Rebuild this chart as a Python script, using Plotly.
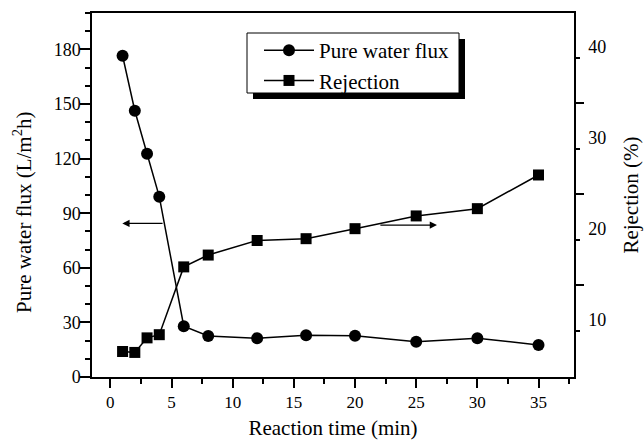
import plotly.graph_objects as go

# Reaction time (min)
time_min = [1, 2, 3, 4, 6, 8, 12, 16, 20, 25, 30, 35]
# Pure water flux (L/m2h)
flux = [176.5, 146.3, 122.7, 99.1, 27.9, 22.5, 21.3, 22.9, 22.7, 19.4, 21.3, 17.6]
# Rejection (%)
rejection = [6.5, 6.4, 8.0, 8.35, 15.8, 17.1, 18.7, 18.9, 20.0, 21.4, 22.2, 25.9]

x_ticks = [0, 5, 10, 15, 20, 25, 30, 35]
flux_ticks = [0, 30, 60, 90, 120, 150, 180]
rej_ticks = [10, 20, 30, 40]

FONT = "Liberation Serif, Times New Roman, Tinos, DejaVu Serif, serif"
BLACK = "#000000"

fig = go.Figure()

fig.add_trace(go.Scatter(
    x=time_min, y=flux, name="Pure water flux", mode="lines+markers",
    line=dict(color=BLACK, width=1.5),
    marker=dict(symbol="circle", size=12, color=BLACK),
))
fig.add_trace(go.Scatter(
    x=time_min, y=rejection, name="Rejection", mode="lines+markers",
    yaxis="y2",
    line=dict(color=BLACK, width=1.5),
    marker=dict(symbol="square", size=11, color=BLACK),
))
# invisible trace that carries the right-hand tick marks
fig.add_trace(go.Scatter(x=[None], y=[None], yaxis="y3", showlegend=False,
                         hoverinfo="skip"))

x_dom_px = (92, 574)
y_dom_px = (13, 377)
W, H = 644, 440


def px_x(p):
    return (p - x_dom_px[0]) / (x_dom_px[1] - x_dom_px[0])


def px_y(p):
    return (y_dom_px[1] - p) / (y_dom_px[1] - y_dom_px[0])


x_tick_font = dict(family=FONT, size=17, color=BLACK)
y_tick_font = dict(family=FONT, size=18, color=BLACK)
title_font = dict(family=FONT, size=21, color=BLACK)

fig.update_layout(
    width=W, height=H,
    margin=dict(l=x_dom_px[0], r=W - x_dom_px[1], t=y_dom_px[0], b=H - y_dom_px[1]),
    paper_bgcolor="white", plot_bgcolor="white",
    font=dict(family=FONT, color=BLACK),
    xaxis=dict(
        range=[-1.5, 37.9], tickvals=x_ticks, ticks="outside", ticklen=9,
        tickwidth=1.5, tickcolor=BLACK, showgrid=False, zeroline=False,
        showline=True, linecolor=BLACK, linewidth=1.5, mirror=True,
        tickfont=x_tick_font, automargin=False,
        minor=dict(tickmode="linear", tick0=2.5, dtick=5, ticks="outside",
                   ticklen=5, tickwidth=1.5, tickcolor=BLACK),
        title=dict(text="Reaction time (min)", font=title_font, standoff=10),
    ),
    yaxis=dict(
        range=[0, 200], tickvals=flux_ticks, ticks="outside", ticklen=10,
        tickwidth=1.5, tickcolor=BLACK, showgrid=False, zeroline=False,
        showline=True, linecolor=BLACK, linewidth=1.5,
        tickfont=y_tick_font, automargin=False, ticklabelstandoff=-4,
        minor=dict(tickmode="linear", tick0=0, dtick=10, ticks="outside",
                   ticklen=5, tickwidth=1.5, tickcolor=BLACK),
    ),
    yaxis2=dict(
        range=[3.7, 43.7], overlaying="y", side="right", tickvals=rej_ticks,
        ticks="", showgrid=False, zeroline=False, showline=True,
        linecolor=BLACK, linewidth=1.5, tickfont=y_tick_font, automargin=False,
        ticklabelstandoff=9,
        title=dict(text="Rejection (%)", font=title_font, standoff=18),
    ),
    yaxis3=dict(
        range=[3.7, 43.7], overlaying="y", side="right", automargin=False,
        tickvals=[8.8, 18.8, 28.8, 38.8], ticks="outside", ticklen=5,
        tickwidth=1.5, tickcolor=BLACK, showticklabels=False,
        showgrid=False, zeroline=False, showline=False,
        minor=dict(tickmode="array", tickvals=[13.8, 23.8, 33.8],
                   ticks="outside", ticklen=9, tickwidth=1.5, tickcolor=BLACK),
    ),
    legend=dict(
        x=px_x(259), y=px_y(30), xanchor="left", yanchor="top",
        bgcolor="rgba(0,0,0,0)", borderwidth=0,
        font=dict(family=FONT, size=21, color=BLACK),
        itemwidth=50, tracegroupgap=0,
    ),
    showlegend=True,
)

# left axis title, set a little below the axis centre
fig.add_annotation(text="Pure water flux (L/m<sup>2</sup>h)", textangle=-90,
                   xref="paper", yref="paper", x=px_x(22), y=px_y(212),
                   xanchor="center", yanchor="middle", showarrow=False,
                   font=title_font)

# legend frame with a drop shadow
fig.add_shape(type="rect", xref="paper", yref="paper",
              x0=px_x(253), x1=px_x(465), y0=px_y(99), y1=px_y(39),
              fillcolor=BLACK, line=dict(width=0), layer="above")
fig.add_shape(type="rect", xref="paper", yref="paper",
              x0=px_x(247), x1=px_x(459), y0=px_y(93), y1=px_y(33),
              fillcolor="white", line=dict(color=BLACK, width=1), layer="above")

# arrows pointing each curve to its axis
fig.add_annotation(x=0.98, y=84.4, ax=4.39, ay=84.4, xref="x", yref="y",
                   axref="x", ayref="y", showarrow=True, arrowhead=2,
                   arrowsize=1.2, arrowwidth=1.2, arrowcolor=BLACK, text="")
fig.add_annotation(x=26.7, y=20.4, ax=21.95, ay=20.4, xref="x", yref="y2",
                   axref="x", ayref="y2", showarrow=True, arrowhead=2,
                   arrowsize=1.2, arrowwidth=1.2, arrowcolor=BLACK, text="")

fig.write_html("out.html")
